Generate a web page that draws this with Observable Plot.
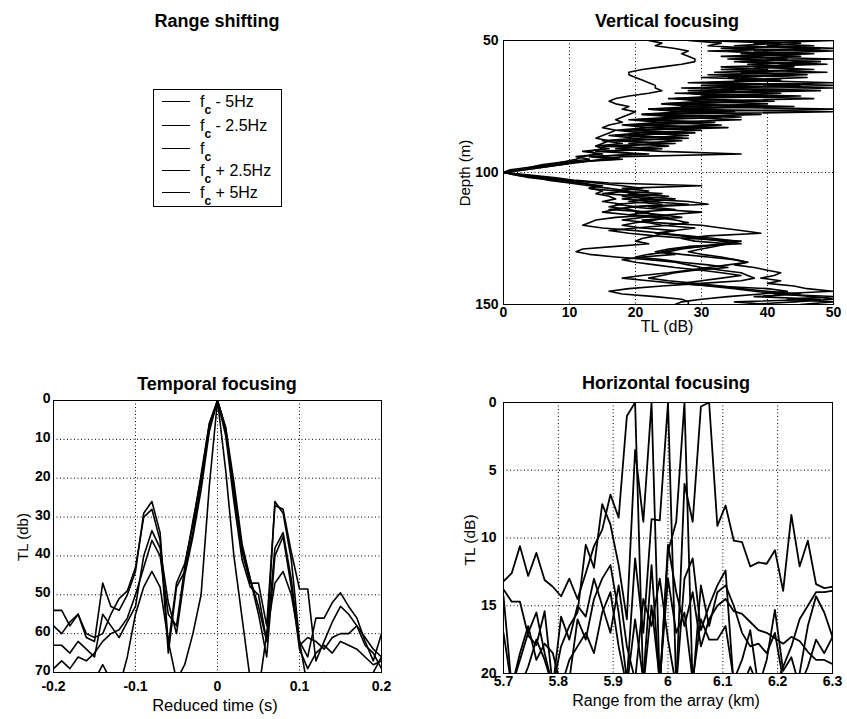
<!DOCTYPE html>
<html><head><meta charset="utf-8">
<script src="https://cdn.jsdelivr.net/npm/d3@7"></script>
<script src="https://cdn.jsdelivr.net/npm/@observablehq/plot@0.6"></script>
<style>
html,body{margin:0;padding:0;background:#fff;}
#page{position:relative;width:847px;height:719px;overflow:hidden;font-family:"Liberation Sans",Arial,Helvetica,sans-serif;color:#000;background:#fff;}
.chart{position:absolute;}
.chart svg{display:block;}
.title{position:absolute;font-weight:bold;font-size:18px;line-height:1;white-space:nowrap;transform:translateX(-50%);}
.xlabel{position:absolute;font-size:16px;line-height:1;white-space:nowrap;transform:translateX(-50%);}
.ylabel{position:absolute;font-size:16px;line-height:1;white-space:nowrap;transform:translate(-50%,-50%) rotate(-90deg);}
#legend{position:absolute;left:153px;top:89px;width:127px;height:116px;border:1px solid #000;}
.lg-line{position:absolute;left:8px;width:28px;height:0;border-top:1.6px solid #000;}
.lg-text{position:absolute;left:46px;font-size:16px;line-height:1;white-space:nowrap;}
.lg-sub{font-size:12px;font-weight:bold;position:relative;top:7px;}
</style>
</head><body>
<div id="page"></div>
<script>
// ---------------- data ----------------
const seriesNames = ["fc - 5Hz", "fc - 2.5Hz", "fc", "fc + 2.5Hz", "fc + 5Hz"];
const legendSuffix = [" - 5Hz", " - 2.5Hz", "", " + 2.5Hz", " + 5Hz"];

// Vertical focusing: depth (m) vs TL (dB)
const vDepth = [50,51,52,53,54,55,56,57,58,59,60,61,62,63,64,65,66,67,68,69,70,71,72,73,74,75,76,77,78,79,80,81,82,83,84,85,86,87,88,89,90,91,92,93,94,95,96,97,98,99,100,101,102,103,104,105,106,107,108,109,110,111,112,113,114,115,116,117,118,119,120,121,122,123,124,125,126,127,128,129,130,131,132,133,134,135,136,137,138,139,140,141,142,143,144,145,146,147,148,149,150];
const vTL1 = [22,24,23,26,28,27,28,29,29,27, 24,21,19,19,20,21,22,23,23,24, 22,19,17,16,17,19,18,20,19,18, 17,18,16,15,17,16,15,14,16,15, 14,15,13,14,12,11,9,7,4,2, 0,3,6,9,12,14,13,15,14,16, 17,15,18,16,19,21,23,17,14,13, 12,15,20,24,23,21,20,22,17,12, 11,13,17,22,26,28,30,33,36,37, 38,36,30,24,19,16,18,23,27,28, 28];
const vTL2 = [50,38,47,33,50,36,45,34,48,37, 44,33,49,31,46,35,50,30,50,28, 42,30,47,29,40,27,50,26,39,25, 36,24,33,22,30,21,28,20,27,19, 25,17,24,36,18,15,12,9,6,3, 0,4,8,11,16,30,18,22,19,25, 21,28,31,22,26,20,24,27,21,23, 30,33,36,39,31,27,29,34,32,30, 28,30,33,35,37,35,38,40,42,41, 39,42,40,44,46,50,41,50,43,50, 45];
const vTL3 = [30,42,35,48,31,44,33,50,35,46, 38,47,32,44,30,41,28,45,27,43, 26,40,25,38,24,44,22,35,21,33, 20,32,19,30,18,29,17,27,16,26, 15,24,14,22,13,17,10,8,5,2, 0,2,5,7,10,13,16,19,15,21, 18,23,17,20,16,22,19,25,23,20, 18,21,26,24,28,32,35,33,30,27, 25,22,20,24,27,31,34,29,26,24, 22,25,29,33,36,40,45,38,48,35, 40];
const vTL4 = [35,45,40,50,38,47,36,43,39,49, 33,40,36,46,34,42,31,50,33,48, 29,45,27,41,26,37,25,50,23,36, 22,30,21,34,20,26,19,28,18,24, 17,23,16,20,14,18,11,9,6,3, 0,3,7,10,14,18,21,17,24,20, 26,22,28,19,24,30,25,21,18,22, 24,29,26,23,27,30,33,36,28,25, 23,26,21,18,20,23,26,30,33,36, 33,30,27,31,35,38,42,47,50,44, 37];
const vTL5 = [28,33,31,38,34,40,37,42,36,44, 40,45,38,43,36,39,33,37,30,35, 28,32,26,30,24,29,22,27,21,26, 19,24,18,22,17,21,16,20,15,18, 14,16,12,15,11,13,9,6,4,1, 0,2,4,8,11,15,13,17,20,18, 22,19,24,20,17,15,19,23,26,28, 25,20,16,19,23,28,36,34,30,26, 24,27,31,35,37,34,31,28,25,21, 18,22,26,32,40,43,39,34,30,27, 26];
const vTLTicks = [0,10,20,30,40,50];
const vDepthTicks = [50,100,150];

// Temporal focusing: reduced time (s) vs TL (db)
const tTime = [-0.2,-0.19,-0.18,-0.17,-0.16,-0.15,-0.14,-0.13,-0.12,-0.11,-0.1,-0.09,-0.08,-0.07,-0.06,-0.05,-0.04,-0.03,-0.02,-0.01,0,0.01,0.02,0.03,0.04,0.05,0.06,0.07,0.08,0.09,0.1,0.11,0.12,0.13,0.14,0.15,0.16,0.17,0.18,0.19,0.2];
const tTL1 = [54,54,58,55,61,62,47,53,54,50, 44,29,26,34,63,47,42,32,19,6, 0, 7,21,37,46,53,62,26,29,41,62, 66,56,56,52,49.5,53,56,62,67,60];
const tTL2 = [58,60,57,55,60,61,60,55,51,49, 43,30,28,36,65,48,44,34,21,7, 0, 8,23,39,47,47,58,27,28,39,48.5, 48.5,67,62,57,53,55,58,63,65,69];
const tTL3 = [63,63,65,62,64,66,55,58,61,57, 53,40,33.5,38,52,60,45,35,23,8, 0, 9,26,41,48,50,62,38,34,46,63, 61,62,64,61,60,60,58,61,64,66];
const tTL4 = [69,67,69,66,67,65,62,60,59,56, 50,43,36,40,55,58,43,31,20,6, 0, 7,24,38,46,55,66,40,35,48,64, 69,65,63,65,62,63,64,66,68,67];
const tTL5 = [72,74,76,78,80,72,68,72,74,66, 55,48,44,48,62,72,68,60,50,22, 0, 18,40,56,72,75,60,47,44,50,62, 74,73,70,71,73,74,71,73,70,66];
const tTimeTicks = [-0.2,-0.1,0,0.1,0.2];
const tTLTicks = [0,10,20,30,40,50,60,70];

// Horizontal focusing: range from the array (km) vs TL (dB)
const hRange = [5.7,5.715,5.73,5.745,5.76,5.775,5.79,5.805,5.82,5.835,5.85,5.865,5.88,5.895,5.91,5.925,5.94,5.955,5.97,5.985,6,6.015,6.03,6.045,6.06,6.075,6.09,6.105,6.12,6.135,6.15,6.165,6.18,6.195,6.21,6.225,6.24,6.255,6.27,6.285,6.3];
const hTL1 = [13.2,12.6,10.6,12.8,11.1,13.1,13.6,14.3,13.0,14.5,12.6,10.6,9.4, 6.8,8.5,1.0,0.0,21.0,15.0,20.5,13.0,17.0,15.5,20.5,16.0,17.5,17.5,16.5, 20.5,19.0,16.8,21.0,19.0,15.3,19.8,18.8,21.0,19.5,17.5,18.5,17.3];
const hTL2 = [13.8,14.7,14.7,17.2,17.9,15.4,21.0,18.0,16.5,15.5,10.5,12.2,7.5, 9.0,12.0,16.0,3.5,8.8,0.0,21.0,10.5,14.0,16.5,14.0,18.0,16.0,15.0,14.5, 15.4,15.6,16.2,16.8,17.0,17.4,17.8,17.3,17.6,18.4,19.0,19.0,19.3];
const hTL3 = [14.3,21.0,18.5,16.5,19.0,17.8,18.5,21.0,20.5,16.0,17.5,14.5,13.0, 12.0,15.5,20.5,11.5,17.0,8.6,8.7,0.0,21.0,13.0,11.5,16.8,15.0,13.5,12.4, 21.0,21.0,19.5,21.0,20.5,21.0,19.5,18.0,16.0,15.0,14.0,14.0,13.9];
const hTL4 = [17.0,21.0,21.0,19.5,17.5,19.0,21.0,21.0,19.0,18.0,17.0,18.5,15.5, 14.0,18.0,21.0,16.0,20.5,12.0,21.0,11.0,8.8,0.0,21.0,13.5,16.5,14.0,13.5, 15.0,17.0,18.0,17.8,18.5,17.0,20.5,21.0,20.0,16.5,14.3,15.5,17.3];
const hTL5 = [20.5,21.0,19.0,17.0,15.5,18.5,21.0,15.8,17.5,15.0,15.8,13.0,15.0, 17.0,13.5,18.0,20.5,14.5,16.5,13.0,17.5,21.0,6.0,8.8,0.3,0.0,9.1,7.6, 10.2,10.3,12.1,11.8,11.9,10.9,13.9,8.3,12.1,10.2,13.4,13.7,13.6];
const hRangeTicks = [5.7,5.8,5.9,6,6.1,6.2,6.3];
const hTLTicks = [0,5,10,15,20];

// ---------------- build tables ----------------
function rows(xs, seriesList, xKey, yKey) {
  const out = [];
  seriesList.forEach((vals, s) => {
    vals.forEach((v, i) => out.push({series: seriesNames[s], [xKey]: xs[i], [yKey]: v}));
  });
  return out;
}
const vRows = rows(vDepth, [vTL1, vTL2, vTL3, vTL4, vTL5], "depth", "tl");
const tRows = rows(tTime, [tTL1, tTL2, tTL3, tTL4, tTL5], "t", "tl");
const hRows = rows(hRange, [hTL1, hTL2, hTL3, hTL4, hTL5], "r", "tl");

const baseStyle = {fontFamily: '"Liberation Sans", Arial, Helvetica, sans-serif', fontSize: "14px", fontWeight: "bold", color: "black", background: "transparent", overflow: "visible"};
const grid = {stroke: "black", strokeOpacity: 1, strokeWidth: 1, strokeDasharray: "1,2.5"};
const fmt = d => String(d);

const page = document.getElementById("page");
function place(el, left, top) {
  const d = document.createElement("div");
  d.className = "chart";
  d.style.left = left + "px";
  d.style.top = top + "px";
  d.appendChild(el);
  page.appendChild(d);
}
function addText(cls, text, left, top, size) {
  const d = document.createElement("div");
  d.className = cls;
  d.style.left = left + "px";
  d.style.top = top + "px";
  if (size) d.style.fontSize = size + "px";
  d.textContent = text;
  page.appendChild(d);
}

// Vertical focusing
place(Plot.plot({
  width: 400, height: 304, marginLeft: 60, marginRight: 10, marginTop: 10, marginBottom: 30,
  style: baseStyle,
  x: {domain: [0, 50], ticks: vTLTicks, tickSize: 0, tickPadding: 3, tickFormat: fmt, label: null},
  y: {domain: [50, 150], reverse: true, ticks: vDepthTicks, tickSize: 0, tickPadding: 5, tickFormat: fmt, label: null},
  marks: [
    Plot.ruleX([10, 20, 30, 40], grid),
    Plot.ruleY([100], grid),
    Plot.line(vRows, {x: "tl", y: "depth", z: "series", stroke: "black", strokeWidth: 1.6, clip: true}),
    Plot.frame({stroke: "black", strokeWidth: 1})
  ]
}), 443, 30);

// Temporal focusing
place(Plot.plot({
  width: 388, height: 312, marginLeft: 50, marginRight: 10, marginTop: 10, marginBottom: 30,
  style: baseStyle,
  x: {domain: [-0.2, 0.2]},
  y: {domain: [0, 70], reverse: true},
  marks: [
    Plot.ruleX([-0.1, 0, 0.1], grid),
    Plot.ruleY([10, 20, 30, 40, 50, 60], grid),
    Plot.line(tRows, {x: "t", y: "tl", z: "series", stroke: "black", strokeWidth: 1.6, clip: true}),
    Plot.axisX({ticks: tTimeTicks, tickSize: 0, tickPadding: 9, tickFormat: fmt, label: null}),
    Plot.axisY({ticks: tTLTicks, tickSize: 0, tickPadding: 3, dy: -2, tickFormat: fmt, label: null}),
    Plot.frame({stroke: "black", strokeWidth: 1})
  ]
}), 3, 390);

// Horizontal focusing
place(Plot.plot({
  width: 399, height: 311, marginLeft: 60, marginRight: 10, marginTop: 10, marginBottom: 30,
  style: baseStyle,
  x: {domain: [5.7, 6.3], ticks: hRangeTicks, tickSize: 0, tickPadding: 3, tickFormat: fmt, label: null},
  y: {domain: [0, 20], reverse: true, ticks: hTLTicks, tickSize: 0, tickPadding: 7, tickFormat: fmt, label: null},
  marks: [
    Plot.ruleX([5.8, 5.9, 6, 6.1, 6.2], grid),
    Plot.ruleY([5, 10, 15], grid),
    Plot.line(hRows, {x: "r", y: "tl", z: "series", stroke: "black", strokeWidth: 1.8, clip: true}),
    Plot.frame({stroke: "black", strokeWidth: 1})
  ]
}), 443, 392);

// Titles and axis labels
addText("title", "Range shifting", 217, 12);
addText("title", "Vertical focusing", 667, 12);
addText("title", "Temporal focusing", 217, 375);
addText("title", "Horizontal focusing", 666, 374);
addText("xlabel", "TL (dB)", 667, 319, 16);
addText("xlabel", "Reduced time (s)", 215, 697, 16.5);
addText("xlabel", "Range from the array (km)", 666, 693, 16);
addText("ylabel", "Depth (m)", 464, 173, 15);
addText("ylabel", "TL (db)", 22, 537, 15);
addText("ylabel", "TL (dB)", 470, 540, 15.5);

// Legend (Range shifting panel)
const legend = document.createElement("div");
legend.id = "legend";
const entryY = [12, 36, 59, 81, 103];
legendSuffix.forEach((suf, i) => {
  const ln = document.createElement("div");
  ln.className = "lg-line";
  ln.style.top = (entryY[i] - 1) + "px";
  legend.appendChild(ln);
  const tx = document.createElement("div");
  tx.className = "lg-text";
  tx.style.top = (entryY[i] - 8) + "px";
  tx.appendChild(document.createTextNode("f"));
  const sub = document.createElement("span");
  sub.className = "lg-sub";
  sub.textContent = "c";
  tx.appendChild(sub);
  tx.appendChild(document.createTextNode(suf.replace(/^ /, "\u00a0")));
  legend.appendChild(tx);
});
page.appendChild(legend);
</script>
</body></html>
